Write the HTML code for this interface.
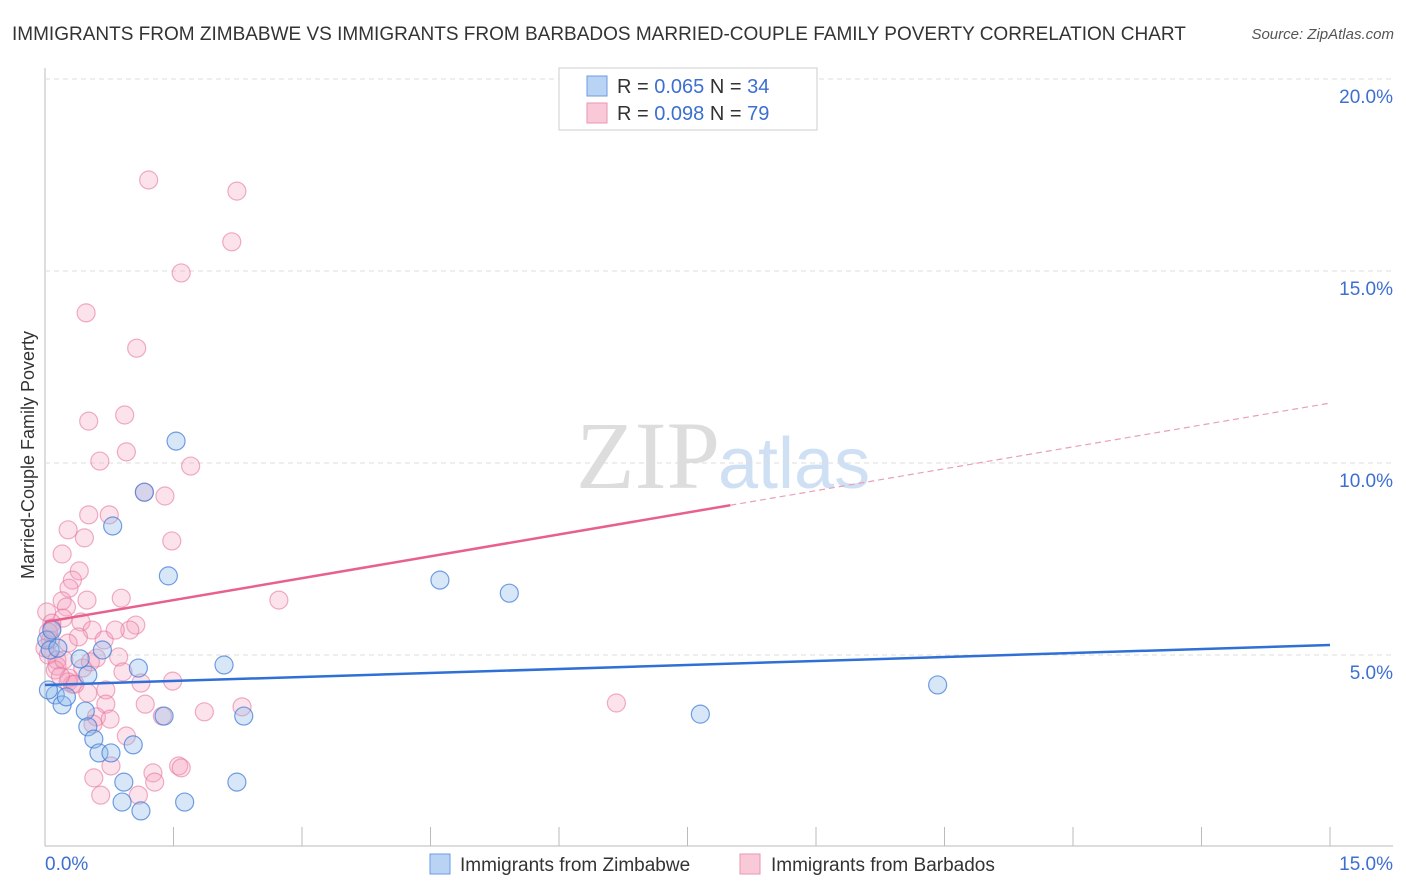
<!DOCTYPE html>
<html><head><meta charset="utf-8"><style>
body{margin:0;background:#fff;font-family:"Liberation Sans",sans-serif;}
svg{display:block}
</style></head><body>
<svg id="c" width="1406" height="892" xmlns="http://www.w3.org/2000/svg">
<text x="12" y="40" font-size="19" fill="#333">IMMIGRANTS FROM ZIMBABWE VS IMMIGRANTS FROM BARBADOS MARRIED-COUPLE FAMILY POVERTY CORRELATION CHART</text>
<text x="1394" y="39" font-size="15" fill="#555" font-style="italic" text-anchor="end">Source: ZipAtlas.com</text>
<text x="720" y="488" font-size="96" fill="#ddd" text-anchor="end" font-family="Liberation Serif">ZIP</text>
<text x="718" y="488" font-size="72" fill="#cfe0f5">atlas</text>
<text transform="translate(34,455) rotate(-90)" font-size="18" fill="#333" text-anchor="middle">Married-Couple Family Poverty</text>
<g id="grid"></g><g id="pts"></g><g id="trend"></g>
<rect x="559" y="68" width="258" height="62" fill="#fff" stroke="#ccc"/>
<rect x="587" y="76" width="20" height="20" fill="#b9d3f5" stroke="#6c9be0"/>
<rect x="587" y="103" width="20" height="20" fill="#f9c9d8" stroke="#e896b2"/>
<text x="617" y="93" font-size="20" fill="#333">R = <tspan fill="#3d6fd1">0.065</tspan>   N = <tspan fill="#3d6fd1">34</tspan></text>
<text x="617" y="120" font-size="20" fill="#333">R = <tspan fill="#3d6fd1">0.098</tspan>   N = <tspan fill="#3d6fd1">79</tspan></text>
<rect x="430" y="854" width="20" height="20" fill="#b9d3f5" stroke="#6c9be0"/>
<text x="460" y="871" font-size="19" fill="#333">Immigrants from Zimbabwe</text>
<rect x="740" y="854" width="20" height="20" fill="#f9c9d8" stroke="#e896b2"/>
<text x="771" y="871" font-size="19" fill="#333">Immigrants from Barbados</text>
</svg>
<script>
const blueX=[1.53,0.79,1.16,1.44,4.61,5.42,0.67,0.41,1.09,2.09,10.42,7.65,0.12,0.20,0.25,0.47,1.39,2.32,0.50,0.57,0.63,0.77,1.03,0.92,2.24,0.90,1.63,1.12,0.02,0.08,0.04,0.06,0.15,0.50];
const blueY=[10.57,8.36,9.24,7.06,6.95,6.61,5.13,4.90,4.66,4.74,4.22,3.46,3.96,3.70,3.91,3.54,3.41,3.41,3.13,2.81,2.45,2.45,2.66,1.69,1.69,1.17,1.17,0.94,5.39,5.65,4.09,5.13,5.18,4.48];
const pinkX=[1.21,2.24,2.18,1.59,0.48,1.07,0.93,0.51,0.95,0.64,1.70,1.16,1.40,0.75,0.51,0.27,0.46,1.48,0.20,0.40,0.32,0.28,0.49,0.89,2.73,0.20,0.25,0.02,0.21,0.08,0.42,1.06,0.99,0.55,0.39,0.06,0.27,0.00,0.04,0.14,0.60,0.86,0.44,0.14,0.28,0.91,0.32,1.12,1.49,0.50,0.71,1.86,2.30,1.17,0.27,6.67,0.71,1.37,0.60,0.76,0.56,0.95,0.77,1.26,1.56,1.59,0.57,1.28,0.65,1.09,0.08,0.04,0.12,0.18,0.35,0.53,0.22,0.69,0.82];
const pinkY=[17.37,17.08,15.76,14.95,13.91,12.99,11.25,11.09,10.29,10.05,9.92,9.24,9.14,8.65,8.65,8.26,8.05,7.97,7.63,7.19,6.95,6.74,6.43,6.48,6.43,6.41,6.25,6.12,5.96,5.83,5.86,5.78,5.65,5.65,5.47,5.39,5.31,5.18,5.00,4.87,4.92,4.95,4.66,4.71,4.40,4.56,4.24,4.27,4.32,4.01,4.09,3.52,3.65,3.72,4.30,3.75,3.72,3.41,3.39,3.33,3.20,2.89,2.11,1.93,2.11,2.06,1.80,1.69,1.35,1.35,5.70,5.60,4.61,4.45,4.24,4.82,4.87,5.39,5.65];
const yTicks=[5,10,15,20];
const yTickLabels=["5.0%","10.0%","15.0%","20.0%"];
const xTickVals=[0,1.5,3,4.5,6,7.5,9,10.5,12,13.5,15];
const blueTrend=[4.22,5.26];
const pinkTrend=[5.86,11.56];
const pinkSolidEnd=8.0;
const NS="http://www.w3.org/2000/svg";
const sx=v=>45+v/15*1285, sy=v=>847-v*38.4;
function mk(tag,attrs,parent){const e=document.createElementNS(NS,tag);for(const k in attrs)e.setAttribute(k,attrs[k]);parent.appendChild(e);return e;}
const grid=document.getElementById('grid'),pts=document.getElementById('pts'),tr=document.getElementById('trend');
let ax=mk('line',{x1:45,y1:68,x2:45,y2:846,stroke:'#bbb'},grid);


let bx=mk('line',{x1:45,y1:846,x2:1393,y2:846,stroke:'#bbb'},grid);


yTicks.forEach((t,i)=>{
 let g=mk('line',{x1:45,x2:1393,y1:sy(t),y2:sy(t),stroke:'#ddd','stroke-dasharray':'5,4'},grid);
 
 
 let l=mk('text',{x:1393,y:sy(t)+24,'font-size':19,fill:'#3d6fd1','text-anchor':'end'},grid);
 l.textContent=yTickLabels[i];
 
 
});
xTickVals.forEach(t=>{
 let m=mk('line',{x1:sx(t),x2:sx(t),y1:827,y2:846,stroke:'#bbb'},grid);
 
 
});
let x0=mk('text',{x:45,y:870,'font-size':19,fill:'#3d6fd1'},grid);x0.textContent='0.0%';


let x1=mk('text',{x:1393,y:870,'font-size':19,fill:'#3d6fd1','text-anchor':'end'},grid);x1.textContent='15.0%';


pinkX.forEach((v,i)=>{
 let c=mk('circle',{cx:sx(v),cy:sy(pinkY[i]),r:9,fill:'rgba(244,160,190,0.3)',stroke:'rgba(230,120,160,0.6)','stroke-width':1.2},pts);
 
 
});
blueX.forEach((v,i)=>{
 let c=mk('circle',{cx:sx(v),cy:sy(blueY[i]),r:9,fill:'rgba(140,185,235,0.35)',stroke:'rgba(70,125,215,0.75)','stroke-width':1.2},pts);
 
 
});
let bl=mk('line',{x1:sx(0),y1:sy(blueTrend[0]),x2:sx(15),y2:sy(blueTrend[1]),stroke:'#2f6fd6','stroke-width':2.5},tr);


const pAt=v=>pinkTrend[0]+(pinkTrend[1]-pinkTrend[0])*v/15;
let pl=mk('line',{x1:sx(0),y1:sy(pinkTrend[0]),x2:sx(pinkSolidEnd),y2:sy(pAt(pinkSolidEnd)),stroke:'#e8608e','stroke-width':2.5},tr);


let pd=mk('line',{x1:sx(pinkSolidEnd),y1:sy(pAt(pinkSolidEnd)),x2:sx(15),y2:sy(pinkTrend[1]),stroke:'#e8a0b8','stroke-width':1.2,'stroke-dasharray':'6,4'},tr);


</script>
</body></html>
